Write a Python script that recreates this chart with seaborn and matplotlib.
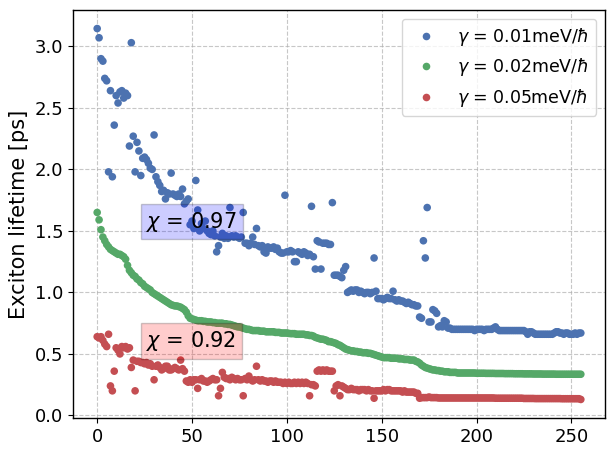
import numpy as np
import pandas as pd
import matplotlib
matplotlib.use("Agg")
import matplotlib.pyplot as plt
import seaborn as sns

labels = [r"$\gamma$ = 0.01meV/$\hbar$", r"$\gamma$ = 0.02meV/$\hbar$", r"$\gamma$ = 0.05meV/$\hbar$"]

blue = [
    3.145, 3.07, 2.90, 2.88, 2.74, 2.72, 1.98, 2.64, 1.94, 2.36,
    2.60, 2.54, 2.63, 2.64, 2.58, 2.62, 2.60, 2.19, 3.03, 2.27,
    1.98, 2.22, 2.15, 1.95, 2.09, 2.10, 2.08, 2.05, 2.01, 2.00,
    2.28, 1.94, 1.90, 1.87, 1.82, 1.83, 1.76, 1.81, 1.80, 1.97,
    1.80, 1.79, 1.78, 1.80, 1.78, 1.84, 1.72, 1.74, 1.76, 1.55,
    1.58, 1.52, 1.91, 1.67, 1.50, 1.56, 1.52, 1.58, 1.50, 1.48,
    1.47, 1.50, 1.46, 1.33, 1.38, 1.45, 1.48, 1.44, 1.46, 1.44,
    1.69, 1.46, 1.45, 1.46, 1.45, 1.44, 1.45, 1.65, 1.40, 1.40,
    1.38, 1.40, 1.45, 1.39, 1.52, 1.38, 1.37, 1.38, 1.33, 1.32,
    1.37, 1.36, 1.36, 1.37, 1.35, 1.36, 1.33, 1.32, 1.32, 1.79,
    1.33, 1.33, 1.34, 1.33, 1.25, 1.25, 1.33, 1.32, 1.31, 1.33,
    1.32, 1.30, 1.31, 1.70, 1.29, 1.19, 1.42, 1.41, 1.19, 1.40,
    1.40, 1.40, 1.39, 1.39, 1.73, 1.14, 1.14, 1.14, 1.13, 1.12,
    1.18, 1.21, 1.00, 1.01, 1.02, 1.01, 1.02, 1.02, 1.00, 1.01,
    1.00, 0.99, 1.00, 1.00, 0.99, 1.00, 1.28, 1.01, 0.95, 0.95,
    0.95, 0.94, 0.95, 0.96, 0.95, 0.95, 1.01, 0.94, 0.93, 0.94,
    0.93, 0.93, 0.92, 0.91, 0.92, 0.91, 0.90, 0.90, 0.89, 0.89,
    0.80, 0.79, 1.42, 1.28, 1.69, 0.76, 0.76, 0.86, 0.85, 0.83,
    0.72, 0.73, 0.72, 0.77, 0.76, 0.71, 0.71, 0.70, 0.70, 0.70,
    0.70, 0.70, 0.70, 0.70, 0.70, 0.70, 0.70, 0.70, 0.70, 0.69,
    0.70, 0.70, 0.70, 0.70, 0.69, 0.70, 0.70, 0.70, 0.70, 0.71,
    0.72, 0.70, 0.69, 0.69, 0.69, 0.69, 0.69, 0.69, 0.69, 0.69,
    0.69, 0.69, 0.69, 0.69, 0.69, 0.69, 0.68, 0.66, 0.68, 0.68,
    0.67, 0.66, 0.66, 0.66, 0.66, 0.66, 0.66, 0.66, 0.66, 0.66,
    0.66, 0.67, 0.68, 0.68, 0.67, 0.67, 0.66, 0.67, 0.67, 0.66,
    0.66, 0.66, 0.67, 0.66, 0.67, 0.67,
]

green = [
    1.65, 1.59, 1.51, 1.45, 1.42, 1.39, 1.37, 1.35, 1.34, 1.33,
    1.32, 1.31, 1.31, 1.30, 1.29, 1.27, 1.22, 1.18, 1.16, 1.14,
    1.13, 1.11, 1.10, 1.08, 1.07, 1.05, 1.04, 1.03, 1.02, 1.00,
    0.99, 0.98, 0.97, 0.96, 0.95, 0.94, 0.93, 0.92, 0.91, 0.90,
    0.895, 0.89, 0.89, 0.885, 0.88, 0.87, 0.86, 0.84, 0.81, 0.79,
    0.785, 0.78, 0.775, 0.77, 0.77, 0.77, 0.765, 0.765, 0.76, 0.76,
    0.76, 0.755, 0.755, 0.75, 0.75, 0.75, 0.75, 0.745, 0.745, 0.74,
    0.74, 0.735, 0.73, 0.725, 0.72, 0.72, 0.715, 0.71, 0.705, 0.70,
    0.70, 0.695, 0.69, 0.69, 0.69, 0.69, 0.685, 0.685, 0.685, 0.68,
    0.68, 0.68, 0.68, 0.68, 0.675, 0.675, 0.675, 0.67, 0.67, 0.67,
    0.67, 0.667, 0.665, 0.665, 0.665, 0.66, 0.66, 0.66, 0.66, 0.66,
    0.655, 0.655, 0.65, 0.65, 0.645, 0.635, 0.63, 0.625, 0.62, 0.62,
    0.615, 0.61, 0.60, 0.60, 0.595, 0.59, 0.585, 0.575, 0.57, 0.56,
    0.55, 0.54, 0.535, 0.53, 0.525, 0.525, 0.52, 0.52, 0.515, 0.515,
    0.51, 0.51, 0.51, 0.505, 0.505, 0.50, 0.495, 0.49, 0.485, 0.48,
    0.475, 0.47, 0.47, 0.47, 0.47, 0.465, 0.465, 0.465, 0.465, 0.46,
    0.46, 0.46, 0.455, 0.455, 0.455, 0.45, 0.45, 0.45, 0.44, 0.435,
    0.425, 0.41, 0.40, 0.39, 0.385, 0.38, 0.375, 0.37, 0.37, 0.365,
    0.365, 0.36, 0.36, 0.355, 0.355, 0.355, 0.35, 0.35, 0.35, 0.35,
    0.345, 0.345, 0.345, 0.345, 0.345, 0.345, 0.345, 0.345, 0.345, 0.345,
    0.343, 0.343, 0.343, 0.343, 0.343, 0.342, 0.342, 0.342, 0.342, 0.342,
    0.341, 0.341, 0.341, 0.341, 0.341, 0.340, 0.340, 0.340, 0.340, 0.340,
    0.339, 0.339, 0.339, 0.339, 0.339, 0.338, 0.338, 0.338, 0.338, 0.338,
    0.337, 0.337, 0.337, 0.337, 0.337, 0.336, 0.336, 0.336, 0.336, 0.336,
    0.336, 0.336, 0.335, 0.335, 0.335, 0.335, 0.335, 0.335, 0.335, 0.335,
    0.335, 0.335, 0.335, 0.335, 0.335, 0.335,
]

red = [
    0.64, 0.63, 0.64, 0.61, 0.58, 0.56, 0.66, 0.24, 0.20, 0.36,
    0.55, 0.53, 0.50, 0.56, 0.55, 0.56, 0.54, 0.55, 0.39, 0.45,
    0.20, 0.44, 0.44, 0.43, 0.43, 0.42, 0.43, 0.41, 0.42, 0.40,
    0.29, 0.40, 0.41, 0.39, 0.37, 0.38, 0.40, 0.40, 0.37, 0.37,
    0.38, 0.39, 0.38, 0.37, 0.45, 0.38, 0.36, 0.28, 0.27, 0.29,
    0.27, 0.29, 0.29, 0.22, 0.29, 0.30, 0.28, 0.28, 0.27, 0.28,
    0.29, 0.30, 0.29, 0.29, 0.16, 0.22, 0.35, 0.31, 0.30, 0.30,
    0.29, 0.31, 0.30, 0.29, 0.30, 0.29, 0.29, 0.16, 0.30, 0.29,
    0.32, 0.29, 0.28, 0.29, 0.40, 0.29, 0.28, 0.29, 0.28, 0.28,
    0.27, 0.28, 0.28, 0.27, 0.28, 0.27, 0.27, 0.27, 0.26, 0.27,
    0.26, 0.27, 0.26, 0.26, 0.27, 0.26, 0.27, 0.26, 0.27, 0.26,
    0.27, 0.26, 0.16, 0.25, 0.25, 0.24, 0.36, 0.37, 0.36, 0.37,
    0.36, 0.37, 0.36, 0.36, 0.36, 0.20, 0.24, 0.25, 0.16, 0.24,
    0.23, 0.22, 0.21, 0.21, 0.22, 0.21, 0.21, 0.21, 0.20, 0.21,
    0.21, 0.21, 0.20, 0.21, 0.20, 0.20, 0.14, 0.20, 0.20, 0.20,
    0.20, 0.21, 0.20, 0.21, 0.21, 0.20, 0.20, 0.20, 0.20, 0.20,
    0.20, 0.19, 0.20, 0.19, 0.19, 0.19, 0.19, 0.19, 0.18, 0.18,
    0.14, 0.145, 0.145, 0.145, 0.145, 0.15, 0.145, 0.145, 0.145, 0.145,
    0.142, 0.142, 0.142, 0.142, 0.142, 0.142, 0.142, 0.142, 0.142, 0.142,
    0.142, 0.142, 0.142, 0.142, 0.142, 0.142, 0.142, 0.142, 0.142, 0.142,
    0.142, 0.142, 0.142, 0.142, 0.142, 0.142, 0.142, 0.142, 0.142, 0.142,
    0.14, 0.14, 0.14, 0.14, 0.14, 0.14, 0.14, 0.14, 0.14, 0.14,
    0.14, 0.14, 0.14, 0.14, 0.14, 0.138, 0.138, 0.138, 0.138, 0.138,
    0.138, 0.137, 0.137, 0.137, 0.137, 0.137, 0.137, 0.137, 0.137, 0.137,
    0.137, 0.137, 0.137, 0.137, 0.137, 0.136, 0.136, 0.136, 0.136, 0.136,
    0.136, 0.136, 0.136, 0.136, 0.136, 0.13,
]

chi_labels = [r"$\chi$ = 0.97", r"$\chi$ = 0.92"]

sns.set_theme(style="ticks", palette="deep")
plt.rcParams["font.family"] = ["DejaVu Sans"]
plt.rcParams["text.color"] = "black"
plt.rcParams["axes.labelcolor"] = "black"
plt.rcParams["xtick.color"] = "black"
plt.rcParams["ytick.color"] = "black"
deep = sns.color_palette("deep")
colors = [deep[0], deep[2], deep[3]]

frames = []
for lab, vals in zip(labels, [blue, green, red]):
    frames.append(pd.DataFrame({"index": np.arange(len(vals)), "lifetime": vals, "series": lab}))
df = pd.concat(frames, ignore_index=True)

fig = plt.figure(figsize=(6.15, 4.55), dpi=100)
ax = fig.add_axes([73 / 615, 1 - 418 / 455, 532 / 615, 408 / 455])

sns.scatterplot(data=df, x="index", y="lifetime", hue="series", hue_order=labels,
                palette=colors, s=30, linewidth=0, alpha=1.0, ax=ax, zorder=2)

ax.grid(True, linestyle="--", color="#b0b0b0", alpha=0.7, linewidth=0.8)
ax.set_axisbelow(True)
for sp in ax.spines.values():
    sp.set_color("black")
    sp.set_linewidth(1.0)
ax.tick_params(axis="both", labelsize=13, direction="out", length=3.5, width=0.8,
               color="black", labelcolor="black", left=True, bottom=True)
ax.set_xlabel("")
ax.set_ylabel("Exciton lifetime [ps]", fontsize=15, color="black")
ax.set_yticks([0.0, 0.5, 1.0, 1.5, 2.0, 2.5, 3.0])
ax.set_xticks([0, 50, 100, 150, 200, 250])

ax.text(26, 1.575, chi_labels[0], fontsize=15, va="center", ha="left", color="black",
        bbox=dict(facecolor="blue", alpha=0.2, edgecolor="black"), zorder=5)
ax.text(26, 0.605, chi_labels[1], fontsize=15, va="center", ha="left", color="black",
        bbox=dict(facecolor="red", alpha=0.2, edgecolor="black"), zorder=5)

leg = ax.legend(loc="upper right", fontsize=12.5, title=None, frameon=True)
leg.get_frame().set_edgecolor("#cccccc")
for t in leg.get_texts():
    t.set_color("black")

fig.savefig("out.png", dpi=100)
